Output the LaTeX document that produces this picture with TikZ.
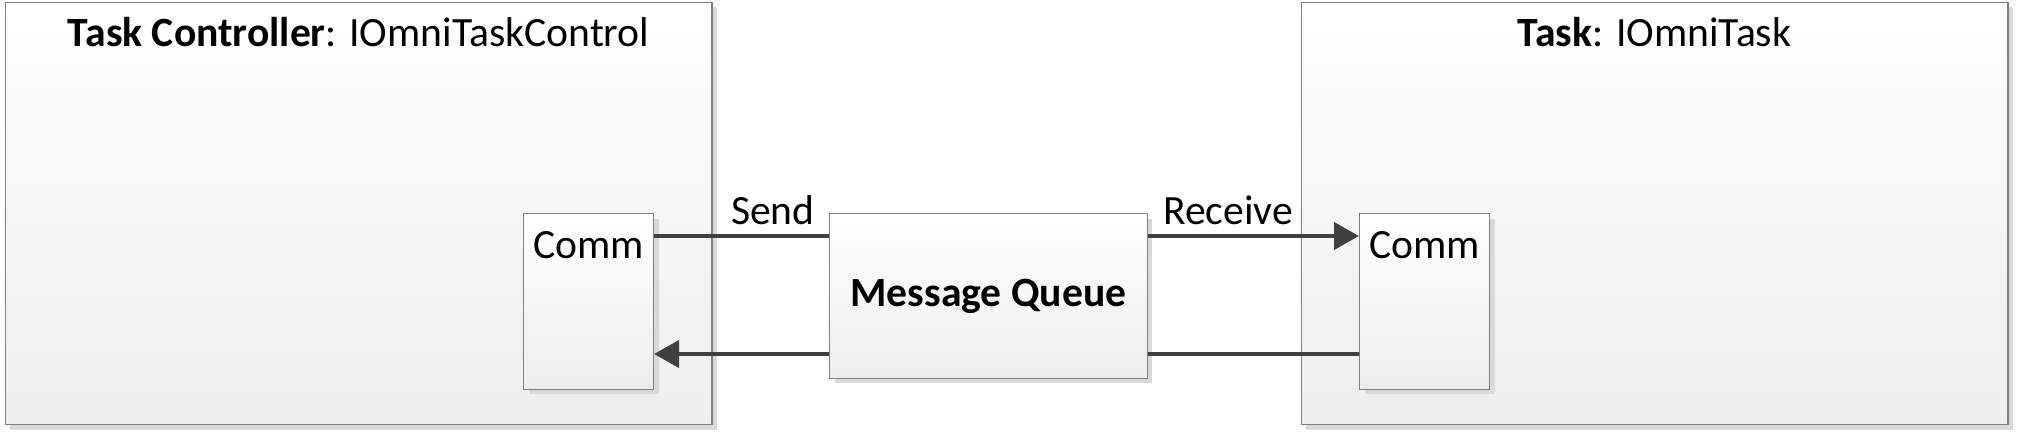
\documentclass[tikz,border=0pt]{standalone}
\usepackage{fontspec}
\setmainfont{Carlito}
\usetikzlibrary{calc,shadows,arrows.meta}
\definecolor{edgegray}{HTML}{7F7F7F}
\definecolor{wiregray}{HTML}{404040}

\begin{document}
\begin{tikzpicture}[x=0.02cm,y=-0.02cm,font=\fontsize{23.7}{28}\selectfont,
                   shaded/.style={draw=edgegray,top color=white,bottom color=black!7,inner sep=0pt,anchor=north west,
                     drop shadow={shadow xshift=0.1cm,shadow yshift=-0.1cm,fill=black!15,opacity=1}},
                   taskbox/.style={shaded,line width=0.7pt,minimum width=14.14cm,minimum height=8.45cm},
                   commbox/.style={shaded,line width=0.6pt,minimum width=2.6cm,minimum height=3.52cm},
                   queuebox/.style={shaded,line width=0.6pt,minimum width=6.36cm,minimum height=3.3cm,font=\fontsize{23.7}{28}\selectfont\bfseries},
                   lbl/.style={inner sep=0pt},
                   wire/.style={draw=wiregray,line width=0.08cm}]
\useasboundingbox (0,0) rectangle (2017,432);

% the two sides
\node[taskbox] (ctrl) at (4.6,1.7) {};
\node[taskbox] (task) at (1300.5,1.7) {};
\node[lbl,anchor=base] (ctrltitle) at ($(ctrl.north)+(0,45)$) {\textbf{Task Controller}: IOmniTaskControl};
\node[lbl,anchor=base] (tasktitle) at ($(task.north)+(0,45)$) {\textbf{Task}: IOmniTask};

\node[commbox] (lcomm) at (523,213) {};
\node[commbox] (rcomm) at (1359,213) {};
\node[lbl,anchor=base west] (lcommtxt) at ($(lcomm.north west)+(10,45)$) {Comm};
\node[lbl,anchor=base west] (rcommtxt) at ($(rcomm.north west)+(10,45)$) {Comm};

\node[queuebox] (mq) at (829,213) {Message Queue};

\coordinate (hi) at (0,236);
\coordinate (lo) at (0,354);

\draw[wire] (lcomm.east |- hi) -- (mq.west |- hi);
\draw[wire,-{Triangle[length=0.5cm,width=0.54cm]}] (mq.east |- hi) -- (rcomm.west |- hi);
\draw[wire] (rcomm.west |- lo) -- (mq.east |- lo);
\draw[wire,-{Triangle[length=0.5cm,width=0.54cm]}] (mq.west |- lo) -- (lcomm.east |- lo);

\node[lbl,anchor=base east] (sendlbl) at ($(mq.north west)+(-14,12)$) {Send};
\node[lbl,anchor=base west] (recvlbl) at ($(mq.north east)+(15,12)$) {Receive};
\end{tikzpicture}
\end{document}
